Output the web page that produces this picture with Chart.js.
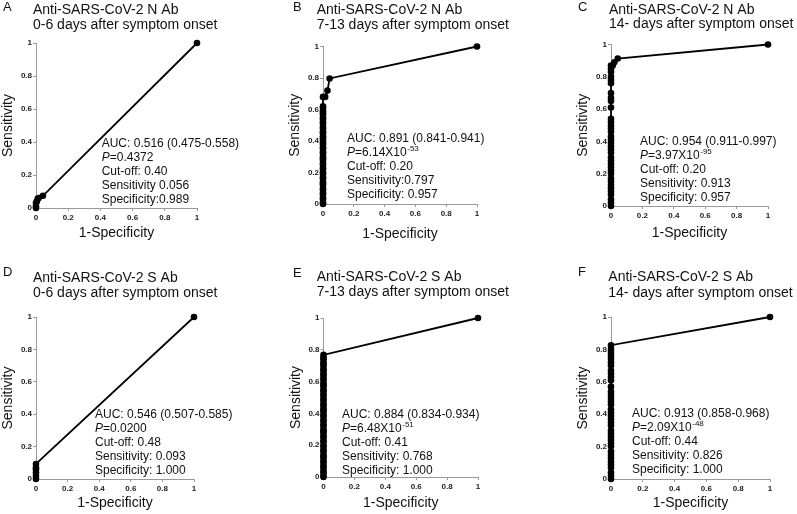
<!DOCTYPE html>
<html><head><meta charset="utf-8">
<script src="https://cdn.jsdelivr.net/npm/chart.js@4.4.0/dist/chart.umd.min.js"></script>
<style>
html,body{margin:0;padding:0;background:#fff;}
#wrap{position:relative;width:797px;height:514px;overflow:hidden;background:#fff;}
#wrap canvas{position:absolute;}
</style></head><body><div id="wrap"></div>
<script>
// ---------- data ----------
const tickLabels = ['0', '0.2', '0.4', '0.6', '0.8', '1'];

// Panel A: N Ab, 0-6 days
const aStackY = [0, 0.01, 0.03];
const aTailX = [0.005, 0.011, 0.016, 0.043, 1];
const aTailY = [0.04, 0.056, 0.06, 0.074, 1];

// Panel B: N Ab, 7-13 days
const bStackY = [0, 0.01, 0.03, 0.04, 0.06, 0.07, 0.09, 0.10, 0.12, 0.13, 0.14, 0.16, 0.17, 0.19, 0.20, 0.22,
  0.23, 0.25, 0.26, 0.28, 0.29, 0.30, 0.32, 0.33, 0.35, 0.36, 0.38, 0.39, 0.41, 0.42, 0.43, 0.45, 0.46, 0.48,
  0.49, 0.51, 0.52, 0.54, 0.55, 0.57, 0.58, 0.59, 0.61, 0.62, 0.68];
const bTailX = [0.014, 0.029, 0.043, 1];
const bTailY = [0.68, 0.72, 0.797, 1];

// Panel C: N Ab, 14- days
const cStackY = [0, 0.02, 0.04, 0.07, 0.09, 0.11, 0.13, 0.15, 0.17, 0.20, 0.22, 0.24, 0.26, 0.28, 0.30, 0.33,
  0.35, 0.37, 0.39, 0.41, 0.43, 0.46, 0.48, 0.50, 0.52, 0.54, 0.61, 0.65, 0.67, 0.70, 0.76, 0.78, 0.80, 0.83,
  0.85, 0.87];
const cTailX = [0.011, 0.021, 0.043, 1];
const cTailY = [0.87, 0.89, 0.913, 1];

// Panel D: S Ab, 0-6 days
const dStackY = [0, 0.02, 0.04, 0.06, 0.07, 0.093];
const dTailX = [1];
const dTailY = [1];

// Panel E: S Ab, 7-13 days
const eStackY = [0, 0.01, 0.03, 0.04, 0.06, 0.07, 0.09, 0.10, 0.12, 0.13, 0.14, 0.16, 0.17, 0.19, 0.20, 0.22,
  0.23, 0.25, 0.26, 0.28, 0.29, 0.30, 0.32, 0.33, 0.35, 0.36, 0.38, 0.39, 0.41, 0.42, 0.43, 0.45, 0.46, 0.48,
  0.49, 0.51, 0.52, 0.54, 0.55, 0.57, 0.58, 0.59, 0.61, 0.62, 0.64, 0.65, 0.67, 0.68, 0.70, 0.71, 0.72, 0.74,
  0.75, 0.768];
const eTailX = [1];
const eTailY = [1];

// Panel F: S Ab, 14- days
const fStackY = [0, 0.02, 0.04, 0.07, 0.09, 0.11, 0.13, 0.15, 0.17, 0.20, 0.22, 0.24, 0.26, 0.28, 0.30, 0.33,
  0.35, 0.37, 0.39, 0.41, 0.43, 0.46, 0.48, 0.50, 0.52, 0.54, 0.57, 0.61, 0.63, 0.65, 0.67, 0.70, 0.72, 0.74,
  0.76, 0.78, 0.80, 0.826];
const fTailX = [1];
const fTailY = [1];

const panelLetters = ['A', 'B', 'C', 'D', 'E', 'F'];
const titleLine1 = ['Anti-SARS-CoV-2 N Ab', 'Anti-SARS-CoV-2 N Ab', 'Anti-SARS-CoV-2 N Ab',
  'Anti-SARS-CoV-2 S Ab', 'Anti-SARS-CoV-2 S Ab', 'Anti-SARS-CoV-2 S Ab'];
const titleLine2 = ['0-6 days after symptom onset', '7-13 days after symptom onset', '14- days after symptom onset',
  '0-6 days after symptom onset', '7-13 days after symptom onset', '14- days after symptom onset'];
const aucText = ['AUC: 0.516 (0.475-0.558)', 'AUC: 0.891 (0.841-0.941)', 'AUC: 0.954 (0.911-0.997)',
  'AUC: 0.546 (0.507-0.585)', 'AUC: 0.884 (0.834-0.934)', 'AUC: 0.913 (0.858-0.968)'];
const pMantissa = ['=0.4372', '=6.14X10', '=3.97X10', '=0.0200', '=6.48X10', '=2.09X10'];
const pExponent = ['', '-53', '-95', '', '-51', '-48'];
const cutoffText = ['Cut-off: 0.40', 'Cut-off: 0.20', 'Cut-off: 0.20', 'Cut-off: 0.48', 'Cut-off: 0.41', 'Cut-off: 0.44'];
const sensText = ['Sensitivity 0.056', 'Sensitivity:0.797', 'Sensitivity: 0.913', 'Sensitivity: 0.093',
  'Sensitivity: 0.768', 'Sensitivity: 0.826'];
const specText = ['Specificity:0.989', 'Specificity: 0.957', 'Specificity: 0.957', 'Specificity: 1.000',
  'Specificity: 1.000', 'Specificity: 1.000'];
const xAxisTitle = '1-Specificity';
const yAxisTitle = 'Sensitivity';

const stacks = [aStackY, bStackY, cStackY, dStackY, eStackY, fStackY];
const tailsX = [aTailX, bTailX, cTailX, dTailX, eTailX, fTailX];
const tailsY = [aTailY, bTailY, cTailY, dTailY, eTailY, fTailY];

// ---------- layout (absolute page pixels) ----------
const layoutBoxes = [
  {ox: 0,   oy: 0,   w: 265, h: 255, L: 36,  R: 197, T: 43,  B: 208, xt: 233, let: [3, 7],   tt: [33, 10, 25],   an: [101.7, 144]},
  {ox: 265, oy: 0,   w: 265, h: 255, L: 323, R: 477, T: 46.5,B: 204, xt: 234, let: [293, 7], tt: [316.7, 10, 25], an: [347, 139]},
  {ox: 530, oy: 0,   w: 267, h: 255, L: 611, R: 768, T: 44.5,B: 206, xt: 233, let: [578, 7], tt: [609, 10, 24.5], an: [640, 141.5]},
  {ox: 0,   oy: 255, w: 265, h: 259, L: 36,  R: 194, T: 317, B: 479, xt: 503, let: [3, 272], tt: [33, 278, 293],  an: [95, 414.5]},
  {ox: 265, oy: 255, w: 265, h: 259, L: 323.5,R: 478,T: 318, B: 477, xt: 503, let: [293, 273], tt: [316.7, 277, 292.5], an: [342, 414.5]},
  {ox: 530, oy: 255, w: 267, h: 259, L: 611, R: 770, T: 317, B: 479, xt: 503, let: [578, 272], tt: [608.3, 277, 293], an: [632, 413.5]}
];

const FONT = '"Liberation Sans", Arial, Helvetica, sans-serif';
const Y_AXIS_W = 36;

const wrap = document.getElementById('wrap');

layoutBoxes.forEach((lb, i) => {
  const cv = document.createElement('canvas');
  cv.style.left = lb.ox + 'px';
  cv.style.top = lb.oy + 'px';
  cv.style.width = lb.w + 'px';
  cv.style.height = lb.h + 'px';
  cv.width = lb.w; cv.height = lb.h;
  wrap.appendChild(cv);

  const pts = stacks[i].map(y => ({x: 0, y: y}))
    .concat(tailsX[i].map((x, k) => ({x: x, y: tailsY[i][k]})));

  const xScaleH = lb.oy + lb.h - lb.B;
  const xTitlePadBottom = (lb.oy + lb.h) - lb.xt - 8.4;

  const textPlugin = {
    id: 'panelText' + i,
    afterDraw(chart) {
      const ctx = chart.ctx;
      ctx.save();
      ctx.fillStyle = '#111';
      ctx.textBaseline = 'middle';
      ctx.textAlign = 'left';
      ctx.font = '13px ' + FONT;
      ctx.fillText(panelLetters[i], lb.let[0] - lb.ox, lb.let[1] - lb.oy);
      ctx.font = '14px ' + FONT;
      ctx.fillText(titleLine1[i], lb.tt[0] - lb.ox, lb.tt[1] - lb.oy);
      ctx.fillText(titleLine2[i], lb.tt[0] - lb.ox, lb.tt[2] - lb.oy);
      const ax = lb.an[0] - lb.ox;
      let ay = lb.an[1] - lb.oy;
      const LH = 14;
      ctx.font = '12px ' + FONT;
      ctx.fillText(aucText[i], ax, ay);
      ay += LH;
      ctx.font = 'italic 12px ' + FONT;
      ctx.fillText('P', ax, ay);
      let cx = ax + ctx.measureText('P').width;
      ctx.font = '12px ' + FONT;
      ctx.fillText(pMantissa[i], cx, ay);
      cx += ctx.measureText(pMantissa[i]).width;
      if (pExponent[i]) {
        ctx.font = '8px ' + FONT;
        ctx.fillText(pExponent[i], cx + 0.5, ay - 4);
      }
      ay += LH;
      ctx.font = '12px ' + FONT;
      ctx.fillText(cutoffText[i], ax, ay);
      ay += LH;
      ctx.fillText(sensText[i], ax, ay);
      ay += LH;
      ctx.fillText(specText[i], ax, ay);
      ctx.restore();
    }
  };

  new Chart(cv, {
    type: 'scatter',
    data: {
      datasets: [{
        data: pts,
        showLine: true,
        borderColor: '#000',
        backgroundColor: '#000',
        borderWidth: 1.8,
        pointRadius: 3.3,
        pointHoverRadius: 3.3,
        pointBackgroundColor: '#000',
        pointBorderColor: '#000',
        pointBorderWidth: 0,
        tension: 0,
        clip: false
      }]
    },
    options: {
      responsive: false,
      animation: false,
      events: [],
      layout: {
        autoPadding: false,
        padding: {
          left: lb.L - lb.ox - Y_AXIS_W,
          top: lb.T - lb.oy,
          right: lb.ox + lb.w - lb.R,
          bottom: 0
        }
      },
      plugins: {legend: {display: false}, tooltip: {enabled: false}, title: {display: false}},
      scales: {
        x: {
          type: 'linear', min: 0, max: 1,
          afterFit(scale) { scale.height = xScaleH; },
          grid: {display: true, drawOnChartArea: false, drawTicks: true, tickLength: 3, color: '#9a9a9a', lineWidth: 1},
          border: {display: true, color: '#9a9a9a', width: 1},
          ticks: {stepSize: 0.2, padding: 2, color: '#222', font: {family: FONT, size: 8, weight: 'bold'},
            maxRotation: 0, autoSkip: false,
            callback: (v, idx) => tickLabels[idx]},
          title: {display: true, text: xAxisTitle, color: '#111', font: {family: FONT, size: 14},
            padding: {top: 0, bottom: xTitlePadBottom}}
        },
        y: {
          type: 'linear', min: 0, max: 1,
          afterFit(scale) { scale.width = Y_AXIS_W; },
          grid: {display: true, drawOnChartArea: false, drawTicks: true, tickLength: 3, color: '#9a9a9a', lineWidth: 1},
          border: {display: true, color: '#9a9a9a', width: 1},
          ticks: {stepSize: 0.2, padding: 1, color: '#222', font: {family: FONT, size: 8, weight: 'bold'},
            autoSkip: false,
            callback: (v, idx) => tickLabels[idx]},
          title: {display: true, text: yAxisTitle, color: '#111', font: {family: FONT, size: 14},
            padding: {top: 0, bottom: 0}}
        }
      }
    },
    plugins: [textPlugin]
  });
});
</script>
</body></html>
